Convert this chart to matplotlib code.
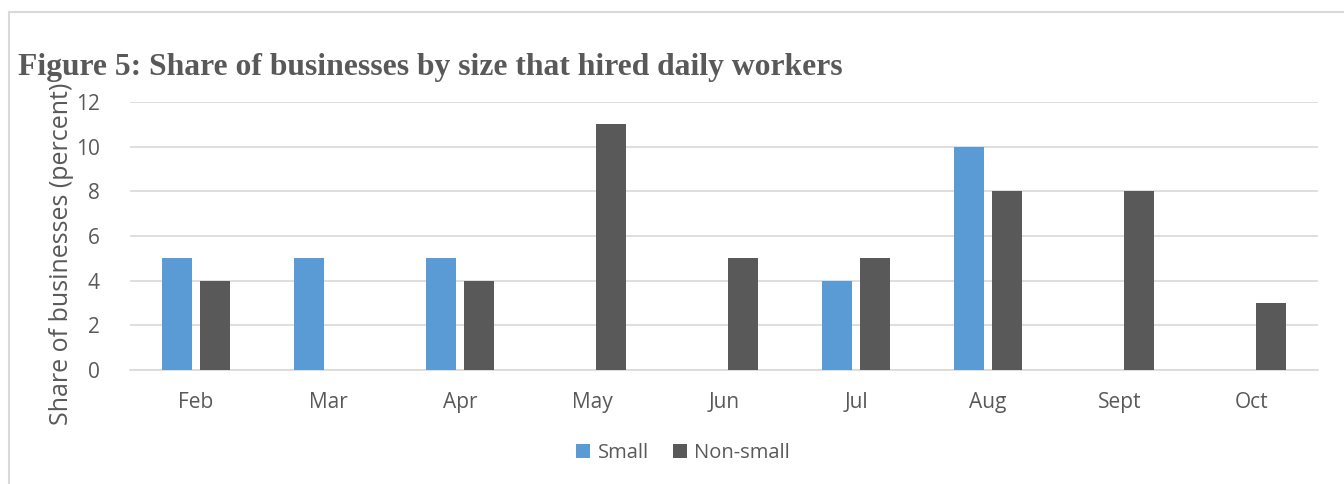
import numpy as np
import matplotlib.pyplot as plt
from matplotlib.lines import Line2D

months = ["Feb", "Mar", "Apr", "May", "Jun", "Jul", "Aug", "Sept", "Oct"]
small = [5, 5, 5, 0, 0, 4, 10, 0, 0]
non_small = [4, 0, 4, 11, 5, 5, 8, 8, 3]

blue = "#5B9BD5"
grey = "#595959"
txt = "#595959"

fig = plt.figure(figsize=(13.44, 4.84), dpi=100)
ax = fig.add_axes([130/1344, 1 - 370/484, 1188/1344, 268/484])

x = np.arange(len(months))
w = 0.227
ax.bar(x - 0.144, small, w, color=blue, label="Small", zorder=3)
ax.bar(x + 0.144, non_small, w, color=grey, label="Non-small", zorder=3)

ax.set_xlim(-0.5, len(months) - 0.5)
ax.set_ylim(0, 12)
ax.set_yticks(range(0, 13, 2))
ax.set_xticks(x)
ax.set_xticklabels(months)
ax.grid(axis="y", color="#D9D9D9", linewidth=1.2, zorder=0)
for s in ["top", "right", "left"]:
    ax.spines[s].set_visible(False)
ax.spines["bottom"].set_color("#D9D9D9")
ax.spines["bottom"].set_linewidth(1.2)
ax.tick_params(length=0, labelsize=15, labelcolor=txt)
ax.tick_params(axis="y", pad=22)
ax.tick_params(axis="x", pad=16)
for lab in ax.get_xticklabels() + ax.get_yticklabels():
    lab.set_family("Open Sans")

fig.text(62/1344, 1 - 254/484, "Share of businesses (percent)", rotation=90,
         ha="center", va="center", fontsize=18, color=txt, family="Open Sans")

fig.text(18/1344, 1 - 75/484, "Figure 5: Share of businesses by size that hired daily workers",
         ha="left", va="baseline", fontsize=22.8, fontweight="bold", color=txt,
         family="Liberation Serif")

leg = ax.legend(loc="center", bbox_to_anchor=(683/1344, 1 - 453/484),
                bbox_transform=fig.transFigure, ncol=2, frameon=False,
                handlelength=0.7, handleheight=0.7, handletextpad=0.35,
                columnspacing=1.2, prop={"family": "Open Sans", "size": 14.5})
for t in leg.get_texts():
    t.set_color(txt)

# light frame on top and left
fig.add_artist(Line2D([9/1344, 1], [1 - 12/484, 1 - 12/484], color="#D9D9D9", linewidth=1.5))
fig.add_artist(Line2D([9/1344, 9/1344], [0, 1 - 12/484], color="#D9D9D9", linewidth=1.5))

fig.savefig("out.png", dpi=100)
